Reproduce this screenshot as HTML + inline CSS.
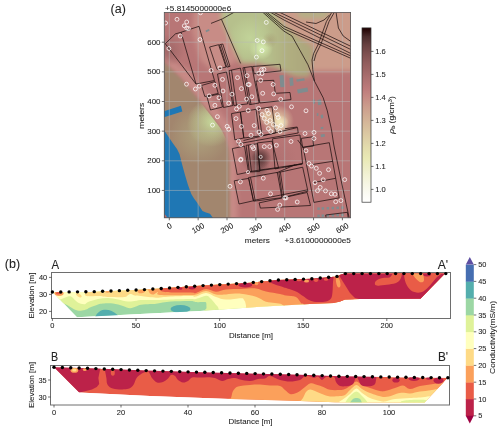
<!DOCTYPE html>
<html><head><meta charset="utf-8"><style>
html,body{margin:0;padding:0;background:#fff;}
svg{display:block;font-family:"Liberation Sans", sans-serif;}
svg{will-change:transform;}
text{stroke:#222;stroke-width:0.07px;}
</style></head><body>
<svg width="500" height="431" viewBox="0 0 500 431">
<defs>

<linearGradient id="pinkr" x1="0" y1="0" x2="0" y2="1"><stop offset="0.00" stop-color="#1e0000"/><stop offset="0.05" stop-color="#4b2d2d"/><stop offset="0.10" stop-color="#684141"/><stop offset="0.15" stop-color="#7e5050"/><stop offset="0.20" stop-color="#915d5d"/><stop offset="0.25" stop-color="#a06767"/><stop offset="0.30" stop-color="#af7272"/><stop offset="0.35" stop-color="#bd7b7b"/><stop offset="0.40" stop-color="#c68b84"/><stop offset="0.45" stop-color="#cb9c8c"/><stop offset="0.50" stop-color="#d0ab93"/><stop offset="0.55" stop-color="#d5b99a"/><stop offset="0.60" stop-color="#dac6a1"/><stop offset="0.65" stop-color="#dfd3a8"/><stop offset="0.70" stop-color="#e4dfae"/><stop offset="0.75" stop-color="#e9e9b5"/><stop offset="0.80" stop-color="#ededc6"/><stop offset="0.85" stop-color="#f2f2d6"/><stop offset="0.90" stop-color="#f7f7e5"/><stop offset="0.95" stop-color="#fbfbf3"/><stop offset="1.00" stop-color="#ffffff"/></linearGradient>
<clipPath id="mapclip"><rect x="164.3" y="12.4" width="186.3" height="205.4"/></clipPath>
<clipPath id="clipA"><polygon points="52.4,292 90,292 145,289.6 203,285.6 247,283 278,280 311.8,278.8 336.8,276.5 341,274.5 345,273.5 445,273.5 420.5,298.8 360,299 345,299.5 340,301.6 334,303 310,304 264,306.5 200,311 140,314 77,317.2"/></clipPath>
<clipPath id="clipB"><polygon points="54,367.2 96,368.6 146,370.6 200,372.2 247,373.4 300,374.8 338,376.2 400,377.2 448,377.8 424.5,402.5 335,402.3 300,401 230,399 150,396 79.2,392.6"/></clipPath>
<linearGradient id="olivegrad" x1="222" y1="0" x2="310" y2="0" gradientUnits="userSpaceOnUse"><stop offset="0" stop-color="#b6c08c"/><stop offset="0.5" stop-color="#b6c08c"/><stop offset="0.75" stop-color="#b0ae80"/><stop offset="1" stop-color="#aca67c"/></linearGradient>
<clipPath id="tanclip"><polygon points="150,50 164,62 180,77.6 196.5,97 212.7,118 221,129 226,139 228.8,150 229.8,165 230,230 150,230"/></clipPath>
<filter id="blur3" x="-20%" y="-20%" width="140%" height="140%"><feGaussianBlur stdDeviation="2.5"/></filter>
<filter id="blur15" x="-20%" y="-20%" width="140%" height="140%"><feGaussianBlur stdDeviation="1.5"/></filter>
<filter id="blur5" x="-20%" y="-20%" width="140%" height="140%"><feGaussianBlur stdDeviation="5"/></filter>
<radialGradient id="g1"><stop offset="0" stop-color="#dcf4b4" stop-opacity="1.0"/><stop offset="1" stop-color="#dcf4b4" stop-opacity="0"/></radialGradient><radialGradient id="g1b"><stop offset="0" stop-color="#c4d89c" stop-opacity="0.8"/><stop offset="1" stop-color="#c4d89c" stop-opacity="0"/></radialGradient><radialGradient id="o1"><stop offset="0" stop-color="#a89c74" stop-opacity="0.6"/><stop offset="1" stop-color="#a89c74" stop-opacity="0"/></radialGradient><radialGradient id="g2"><stop offset="0" stop-color="#cce6a2" stop-opacity="1.0"/><stop offset="1" stop-color="#cce6a2" stop-opacity="0"/></radialGradient><radialGradient id="g2b"><stop offset="0" stop-color="#b4b084" stop-opacity="0.7"/><stop offset="1" stop-color="#b4b084" stop-opacity="0"/></radialGradient><radialGradient id="y1"><stop offset="0" stop-color="#ecdcae" stop-opacity="1.0"/><stop offset="1" stop-color="#ecdcae" stop-opacity="0"/></radialGradient><radialGradient id="y3"><stop offset="0" stop-color="#f6eec4" stop-opacity="0.9"/><stop offset="1" stop-color="#f6eec4" stop-opacity="0"/></radialGradient><radialGradient id="y2"><stop offset="0" stop-color="#e8d2a8" stop-opacity="0.8"/><stop offset="1" stop-color="#e8d2a8" stop-opacity="0"/></radialGradient><radialGradient id="d1c"><stop offset="0" stop-color="#7a4c4c" stop-opacity="0.7"/><stop offset="1" stop-color="#7a4c4c" stop-opacity="0"/></radialGradient><radialGradient id="d1b"><stop offset="0" stop-color="#604040" stop-opacity="0.7"/><stop offset="1" stop-color="#604040" stop-opacity="0"/></radialGradient><radialGradient id="d1"><stop offset="0" stop-color="#3a2222" stop-opacity="1.0"/><stop offset="1" stop-color="#3a2222" stop-opacity="0"/></radialGradient><radialGradient id="d2"><stop offset="0" stop-color="#9a6464" stop-opacity="0.8"/><stop offset="1" stop-color="#9a6464" stop-opacity="0"/></radialGradient><radialGradient id="d4"><stop offset="0" stop-color="#a86c6c" stop-opacity="0.5"/><stop offset="1" stop-color="#a86c6c" stop-opacity="0"/></radialGradient>
</defs>
<g clip-path="url(#mapclip)">
<rect x="154.3" y="2.4000000000000004" width="206.3" height="225.4" fill="#b87676"/>
<g filter="url(#blur3)">
<polygon points="195,0 232,0 238,40 236,62 214,72 200,60 192,30" fill="#c88c86"/>
<polygon points="164,56 188,70 204,90 220,112 232,128 236,150 238,230 226,230 226,140 218,126 206,110 194,94 180,77.6 164,62" fill="#c88a86"/>
<polygon points="222,0 266,0 280,20 292,30 300,38 310,44 314,50 312,62 309,77 296,76.5 284,72 276,67.5 257,63.5 245,63.5 240.6,63.4 221.5,19.5" fill="url(#olivegrad)"/>
<polygon points="266,0 360,0 360,71 312,71 309,77 312,62 314,50 310,44 300,38 290,30 280,20" fill="#cc9c8a"/>
<polygon points="296,10 330,10 326,18 300,18" fill="#b4b086"/>
</g>
<g filter="url(#blur15)">
<polygon points="150,50 164,62 180,77.6 196.5,97 212.7,118 221,129 226,139 228.8,150 229.8,165 230,230 150,230" fill="#a2866e"/>
</g>
<circle cx="261" cy="48" r="12" fill="url(#g1)"/>
<circle cx="250" cy="38" r="22" fill="url(#g1b)"/>
<circle cx="270" cy="40" r="8" fill="url(#o1)"/>
<circle cx="211" cy="123" r="24" fill="url(#g2)" clip-path="url(#tanclip)"/>
<circle cx="200" cy="135" r="30" fill="url(#g2b)" clip-path="url(#tanclip)"/>
<circle cx="278" cy="121" r="16" fill="url(#y1)"/>
<circle cx="281" cy="123" r="8" fill="url(#y3)"/>
<circle cx="266" cy="116" r="10" fill="url(#y2)"/>
<circle cx="256" cy="158" r="16" fill="url(#d1c)"/>
<circle cx="259" cy="168" r="11" fill="url(#d1b)"/>
<circle cx="261.5" cy="158" r="10" fill="url(#d1)"/>
<circle cx="169" cy="50" r="16" fill="url(#d2)"/>
<circle cx="275" cy="160" r="22" fill="url(#d4)"/>
<polygon points="160,130.5 164.3,130.5 168,136 172.5,142.8 177,149 179.5,154 182,164 185,175 188,185 191.3,194 194,198.5 197,202.4 202.5,210.9 206,212.5 210,213.7 213,218 213,225 160,225" fill="#1f77b4"/>
<polygon points="160,112.5 180.9,105.7 182.3,111.4 160,118.5" fill="#1f77b4"/>
<polygon points="164.3,213.5 167.6,218 164.3,218" fill="#c46a66"/>
<polygon points="205.5,30.5 209,29 209.6,30.8 206.1,32.3" fill="#7f8c8f"/>
<polygon points="279.4,75.4 283.5,75 284.5,87 280.4,87.3" fill="#7f8c8f"/>
<polygon points="289.4,78 293,77.6 293.6,85.6 290,86" fill="#7f8c8f"/>
<polygon points="296.2,79.6 304.2,78.2 304.8,80.4 296.8,81.8" fill="#7f8c8f"/>
<polygon points="297,89.5 307.4,87.4 308.2,91.4 297.8,93.4" fill="#7f8c8f"/>
<polygon points="312.6,99.6 314.8,99.4 315.2,103.5 313,103.7" fill="#7f8c8f"/>
<polygon points="317.5,100 321,99.2 321.6,104.6 318.2,105.2" fill="#7f8c8f"/>
<polygon points="316.7,113.2 318.3,113 318.5,115.7 316.9,115.9" fill="#7f8c8f"/>
<polygon points="320.6,115 323,114.6 323.4,118 321,118.4" fill="#7f8c8f"/>
<polygon points="320.6,127.2 323.2,126.8 323.4,128.8 320.8,129.2" fill="#7f8c8f"/>
<polygon points="320.6,134.6 324.6,134 325,136.6 321,137.2" fill="#7f8c8f"/>
<rect x="317.3" y="207.4" width="2.5" height="2.5" fill="#7f8c8f"/>
<rect x="321.6" y="207.20000000000002" width="2.5" height="2.5" fill="#7f8c8f"/>
<rect x="326.6" y="207.0" width="2.5" height="2.5" fill="#7f8c8f"/>
<rect x="331.6" y="206.8" width="2.5" height="2.5" fill="#7f8c8f"/>
<rect x="336.40000000000003" y="206.6" width="2.5" height="2.5" fill="#7f8c8f"/>
<rect x="341.2" y="206.4" width="2.5" height="2.5" fill="#7f8c8f"/>
<rect x="317.3" y="214.6" width="2.5" height="2.5" fill="#7f8c8f"/>
<rect x="321.6" y="214.4" width="2.5" height="2.5" fill="#7f8c8f"/>
<rect x="326.6" y="214.2" width="2.5" height="2.5" fill="#7f8c8f"/>
<rect x="331.6" y="214.0" width="2.5" height="2.5" fill="#7f8c8f"/>
<rect x="336.40000000000003" y="213.79999999999998" width="2.5" height="2.5" fill="#7f8c8f"/>
<rect x="341.2" y="213.6" width="2.5" height="2.5" fill="#7f8c8f"/>
<line x1="169.3" y1="12.4" x2="169.3" y2="217.8" stroke="#bababa" stroke-opacity="0.62" stroke-width="0.8"/>
<line x1="198.15" y1="12.4" x2="198.15" y2="217.8" stroke="#bababa" stroke-opacity="0.62" stroke-width="0.8"/>
<line x1="227" y1="12.4" x2="227" y2="217.8" stroke="#bababa" stroke-opacity="0.62" stroke-width="0.8"/>
<line x1="255.85" y1="12.4" x2="255.85" y2="217.8" stroke="#bababa" stroke-opacity="0.62" stroke-width="0.8"/>
<line x1="284.7" y1="12.4" x2="284.7" y2="217.8" stroke="#bababa" stroke-opacity="0.62" stroke-width="0.8"/>
<line x1="313.55" y1="12.4" x2="313.55" y2="217.8" stroke="#bababa" stroke-opacity="0.62" stroke-width="0.8"/>
<line x1="342.4" y1="12.4" x2="342.4" y2="217.8" stroke="#bababa" stroke-opacity="0.62" stroke-width="0.8"/>
<line x1="164.3" y1="190.45" x2="350.6" y2="190.45" stroke="#bababa" stroke-opacity="0.62" stroke-width="0.8"/>
<line x1="164.3" y1="160.8" x2="350.6" y2="160.8" stroke="#bababa" stroke-opacity="0.62" stroke-width="0.8"/>
<line x1="164.3" y1="131.15" x2="350.6" y2="131.15" stroke="#bababa" stroke-opacity="0.62" stroke-width="0.8"/>
<line x1="164.3" y1="101.5" x2="350.6" y2="101.5" stroke="#bababa" stroke-opacity="0.62" stroke-width="0.8"/>
<line x1="164.3" y1="71.85" x2="350.6" y2="71.85" stroke="#bababa" stroke-opacity="0.62" stroke-width="0.8"/>
<line x1="164.3" y1="42.2" x2="350.6" y2="42.2" stroke="#bababa" stroke-opacity="0.62" stroke-width="0.8"/>
<polygon points="165.3,43.7 175.4,33.9 181,32.3 199,26.3 214.5,80.5 196,84" stroke="#1e1010" stroke-width="0.75" fill="none" stroke-linejoin="round"/>
<polygon points="209.6,47 218.6,44.7 226,67 217,69.3" stroke="#1e1010" stroke-width="0.75" fill="none" stroke-linejoin="round"/>
<polygon points="219.5,44.7 222.8,44 230,66.4 226.8,67.2" stroke="#1e1010" stroke-width="0.75" fill="none" stroke-linejoin="round"/>
<polygon points="201.5,85.5 215,81.5 218.2,93.4 204.8,96.5" stroke="#1e1010" stroke-width="0.75" fill="none" stroke-linejoin="round"/>
<polygon points="207,96.8 219,94 222.5,107 210.5,110" stroke="#1e1010" stroke-width="0.75" fill="none" stroke-linejoin="round"/>
<polygon points="217.5,74 226.5,72 233,105.5 223.5,107.5" stroke="#1e1010" stroke-width="0.75" fill="none" stroke-linejoin="round"/>
<polygon points="229.1,70.6 240.4,68.1 247.7,103.9 233.9,105.5" stroke="#1e1010" stroke-width="0.75" fill="none" stroke-linejoin="round"/>
<polygon points="242.9,67.8 251.8,66.5 259.1,103 249.4,104.7" stroke="#1e1010" stroke-width="0.75" fill="none" stroke-linejoin="round"/>
<polygon points="252.6,66.5 280,64.3 281,70.8 254.2,73.8" stroke="#1e1010" stroke-width="0.75" fill="none" stroke-linejoin="round"/>
<polygon points="255.9,81.1 273.7,80.3 275.3,93.3 290,92.5 291,99.6 259.9,103" stroke="#1e1010" stroke-width="0.75" fill="none" stroke-linejoin="round"/>
<polygon points="231.5,113.6 240.4,112 243.8,138 234.8,139.8" stroke="#1e1010" stroke-width="0.75" fill="none" stroke-linejoin="round"/>
<polygon points="240.4,112 256,109.3 259.7,136 243.8,138" stroke="#1e1010" stroke-width="0.75" fill="none" stroke-linejoin="round"/>
<polygon points="258.5,108.8 272,106.8 275.5,133 262,135.5" stroke="#1e1010" stroke-width="0.75" fill="none" stroke-linejoin="round"/>
<polygon points="232.3,148.6 244.5,146.1 248.5,172.1 237.2,174.5" stroke="#1e1010" stroke-width="0.75" fill="none" stroke-linejoin="round"/>
<polygon points="246.1,145.3 257.5,143.7 259.9,171.3 249.4,172.1" stroke="#1e1010" stroke-width="0.75" fill="none" stroke-linejoin="round"/>
<polygon points="257.5,142.9 272.1,141.2 278.6,168 259.9,170.5" stroke="#1e1010" stroke-width="0.75" fill="none" stroke-linejoin="round"/>
<polygon points="234.2,180.8 248.6,178.4 253.4,200.8 239,204" stroke="#1e1010" stroke-width="0.75" fill="none" stroke-linejoin="round"/>
<polygon points="248.6,177.5 277.3,172.4 281.9,197.7 253.6,201.2" stroke="#1e1010" stroke-width="0.75" fill="none" stroke-linejoin="round"/>
<polygon points="278.9,172.4 302.7,167.2 307.9,191.2 282.5,197.7" stroke="#1e1010" stroke-width="0.75" fill="none" stroke-linejoin="round"/>
<polygon points="272.5,138.8 300,135 302.6,164 275,168.9" stroke="#1e1010" stroke-width="0.75" fill="none" stroke-linejoin="round"/>
<polygon points="259.1,202.9 307.2,192.5 310.5,205.5 260.4,208.1" stroke="#1e1010" stroke-width="0.75" fill="none" stroke-linejoin="round"/>
<polygon points="303.1,147.2 329.3,142.7 339.2,197.9 313.9,202.4" stroke="#1e1010" stroke-width="0.75" fill="none" stroke-linejoin="round"/>
<polygon points="301.3,138.4 312.6,136.8 313.6,146 302.6,147.5" stroke="#1e1010" stroke-width="0.75" fill="none" stroke-linejoin="round"/>
<polygon points="325.7,215 347.4,212.3 348.5,220 326.5,221" stroke="#1e1010" stroke-width="0.75" fill="none" stroke-linejoin="round"/>
<polyline points="181,32.3 196,84" stroke="#1e1010" stroke-width="0.75" fill="none" stroke-linejoin="round"/>
<polyline points="211,23.4 222.5,18.8 234.5,12" stroke="#1e1010" stroke-width="0.75" fill="none" stroke-linejoin="round"/>
<polyline points="221.5,19.5 240.6,63.4" stroke="#1e1010" stroke-width="0.75" fill="none" stroke-linejoin="round"/>
<polyline points="221,44.4 228.4,66.8" stroke="#1e1010" stroke-width="0.75" fill="none" stroke-linejoin="round"/>
<polyline points="231.5,70 236.5,105" stroke="#1e1010" stroke-width="0.75" fill="none" stroke-linejoin="round"/>
<polyline points="244.5,67.5 251,104.5" stroke="#1e1010" stroke-width="0.75" fill="none" stroke-linejoin="round"/>
<polyline points="243.5,140.5 297.5,127.5 298.2,133" stroke="#1e1010" stroke-width="0.75" fill="none" stroke-linejoin="round"/>
<polyline points="237,144 298.2,133" stroke="#1e1010" stroke-width="0.75" fill="none" stroke-linejoin="round"/>
<polyline points="285,128.7 297.2,127" stroke="#1e1010" stroke-width="0.75" fill="none" stroke-linejoin="round"/>
<polyline points="248.3,145 251.5,171.8" stroke="#1e1010" stroke-width="0.75" fill="none" stroke-linejoin="round"/>
<polyline points="250.5,177.3 255.3,200.9" stroke="#1e1010" stroke-width="0.75" fill="none" stroke-linejoin="round"/>
<polyline points="280.4,172.2 284,197.3" stroke="#1e1010" stroke-width="0.75" fill="none" stroke-linejoin="round"/>
<polyline points="253.9,200.3 307.2,189.9" stroke="#1e1010" stroke-width="0.75" fill="none" stroke-linejoin="round"/>
<polyline points="250,171.5 302,163.9" stroke="#1e1010" stroke-width="0.75" fill="none" stroke-linejoin="round"/>
<polyline points="276.6,172.8 295,164.8" stroke="#1e1010" stroke-width="0.75" fill="none" stroke-linejoin="round"/>
<polyline points="313,164.4 332.9,161.3" stroke="#1e1010" stroke-width="0.75" fill="none" stroke-linejoin="round"/>
<polyline points="313.9,182.5 335.6,178.3" stroke="#1e1010" stroke-width="0.75" fill="none" stroke-linejoin="round"/>
<polyline points="297.7,140 303.1,147.2" stroke="#1e1010" stroke-width="0.75" fill="none" stroke-linejoin="round"/>
<polyline points="285,167.1 302.2,163.5" stroke="#1e1010" stroke-width="0.75" fill="none" stroke-linejoin="round"/>
<polyline points="279,12 351,46.4" stroke="#1e1010" stroke-width="0.75" fill="none" stroke-linejoin="round"/>
<polyline points="273,12 351,49.6" stroke="#1e1010" stroke-width="0.75" fill="none" stroke-linejoin="round"/>
<polyline points="270,12 284,20 351,53.6" stroke="#1e1010" stroke-width="0.75" fill="none" stroke-linejoin="round"/>
<polyline points="266.5,12 284,26.4 351,56" stroke="#1e1010" stroke-width="0.75" fill="none" stroke-linejoin="round"/>
<polyline points="264.5,12 284,28.8 351,58.4" stroke="#1e1010" stroke-width="0.75" fill="none" stroke-linejoin="round"/>
<polyline points="262.5,12 284,31.2 292,36 300,50.4 308,64.8 314.4,81" stroke="#1e1010" stroke-width="0.75" fill="none" stroke-linejoin="round"/>
<polyline points="332,12 326.4,21.6 322.4,32.8 318.4,44 313.6,53.6 312,60 312.8,69.6 314.4,81 323.2,97.8 327.3,110.8 331.3,128.7 333.8,145 341,180 349.2,218" stroke="#1e1010" stroke-width="0.75" fill="none" stroke-linejoin="round"/>
<polyline points="334.5,12 329,21.6 325,32.8 321,44 316,54 314,61" stroke="#1e1010" stroke-width="0.75" fill="none" stroke-linejoin="round"/>
<polyline points="306,22 316,23.5 324,20 329.5,15" stroke="#1e1010" stroke-width="0.75" fill="none" stroke-linejoin="round"/>
<polyline points="336,12 338.4,28 343.2,36 351,41.6" stroke="#1e1010" stroke-width="0.75" fill="none" stroke-linejoin="round"/>
<circle cx="165.6" cy="23" r="1.95" fill="none" stroke="#fff" stroke-width="0.8" stroke-opacity="0.95"/>
<circle cx="177" cy="19.3" r="1.95" fill="none" stroke="#fff" stroke-width="0.8" stroke-opacity="0.95"/>
<circle cx="186.7" cy="22" r="1.95" fill="none" stroke="#fff" stroke-width="0.8" stroke-opacity="0.95"/>
<circle cx="184.3" cy="25.8" r="1.95" fill="none" stroke="#fff" stroke-width="0.8" stroke-opacity="0.95"/>
<circle cx="186.7" cy="28.2" r="1.95" fill="none" stroke="#fff" stroke-width="0.8" stroke-opacity="0.95"/>
<circle cx="188.4" cy="28.5" r="1.95" fill="none" stroke="#fff" stroke-width="0.8" stroke-opacity="0.95"/>
<circle cx="180.2" cy="36" r="1.95" fill="none" stroke="#fff" stroke-width="0.8" stroke-opacity="0.95"/>
<circle cx="200" cy="39.6" r="1.95" fill="none" stroke="#fff" stroke-width="0.8" stroke-opacity="0.95"/>
<circle cx="168.9" cy="48.5" r="1.95" fill="none" stroke="#fff" stroke-width="0.8" stroke-opacity="0.95"/>
<circle cx="200.5" cy="12.8" r="1.95" fill="none" stroke="#fff" stroke-width="0.8" stroke-opacity="0.95"/>
<circle cx="211.1" cy="70.5" r="1.95" fill="none" stroke="#fff" stroke-width="0.8" stroke-opacity="0.95"/>
<circle cx="220" cy="68" r="1.95" fill="none" stroke="#fff" stroke-width="0.8" stroke-opacity="0.95"/>
<circle cx="222.5" cy="79.4" r="1.95" fill="none" stroke="#fff" stroke-width="0.8" stroke-opacity="0.95"/>
<circle cx="266.3" cy="22.4" r="1.95" fill="none" stroke="#fff" stroke-width="0.8" stroke-opacity="0.95"/>
<circle cx="257.2" cy="40.5" r="1.95" fill="none" stroke="#fff" stroke-width="0.8" stroke-opacity="0.95"/>
<circle cx="263.3" cy="41.9" r="1.95" fill="none" stroke="#fff" stroke-width="0.8" stroke-opacity="0.95"/>
<circle cx="262" cy="50.7" r="1.95" fill="none" stroke="#fff" stroke-width="0.8" stroke-opacity="0.95"/>
<circle cx="256.4" cy="57.1" r="1.95" fill="none" stroke="#fff" stroke-width="0.8" stroke-opacity="0.95"/>
<circle cx="263.9" cy="69.3" r="1.95" fill="none" stroke="#fff" stroke-width="0.8" stroke-opacity="0.95"/>
<circle cx="258.8" cy="73.3" r="1.95" fill="none" stroke="#fff" stroke-width="0.8" stroke-opacity="0.95"/>
<circle cx="262" cy="73.6" r="1.95" fill="none" stroke="#fff" stroke-width="0.8" stroke-opacity="0.95"/>
<circle cx="237.5" cy="77.6" r="1.95" fill="none" stroke="#fff" stroke-width="0.8" stroke-opacity="0.95"/>
<circle cx="247.1" cy="75.7" r="1.95" fill="none" stroke="#fff" stroke-width="0.8" stroke-opacity="0.95"/>
<circle cx="186.5" cy="84.2" r="1.95" fill="none" stroke="#fff" stroke-width="0.8" stroke-opacity="0.95"/>
<circle cx="195.4" cy="89" r="1.95" fill="none" stroke="#fff" stroke-width="0.8" stroke-opacity="0.95"/>
<circle cx="199.2" cy="86.1" r="1.95" fill="none" stroke="#fff" stroke-width="0.8" stroke-opacity="0.95"/>
<circle cx="214.9" cy="85.3" r="1.95" fill="none" stroke="#fff" stroke-width="0.8" stroke-opacity="0.95"/>
<circle cx="223" cy="91" r="1.95" fill="none" stroke="#fff" stroke-width="0.8" stroke-opacity="0.95"/>
<circle cx="219" cy="97.8" r="1.95" fill="none" stroke="#fff" stroke-width="0.8" stroke-opacity="0.95"/>
<circle cx="209.2" cy="95.9" r="1.95" fill="none" stroke="#fff" stroke-width="0.8" stroke-opacity="0.95"/>
<circle cx="214.9" cy="105.3" r="1.95" fill="none" stroke="#fff" stroke-width="0.8" stroke-opacity="0.95"/>
<circle cx="232" cy="94.2" r="1.95" fill="none" stroke="#fff" stroke-width="0.8" stroke-opacity="0.95"/>
<circle cx="228.7" cy="103.2" r="1.95" fill="none" stroke="#fff" stroke-width="0.8" stroke-opacity="0.95"/>
<circle cx="236.5" cy="108.9" r="1.95" fill="none" stroke="#fff" stroke-width="0.8" stroke-opacity="0.95"/>
<circle cx="239.3" cy="106.4" r="1.95" fill="none" stroke="#fff" stroke-width="0.8" stroke-opacity="0.95"/>
<circle cx="241.4" cy="88.6" r="1.95" fill="none" stroke="#fff" stroke-width="0.8" stroke-opacity="0.95"/>
<circle cx="246.6" cy="99.1" r="1.95" fill="none" stroke="#fff" stroke-width="0.8" stroke-opacity="0.95"/>
<circle cx="248.2" cy="84.5" r="1.95" fill="none" stroke="#fff" stroke-width="0.8" stroke-opacity="0.95"/>
<circle cx="217.4" cy="116.7" r="1.95" fill="none" stroke="#fff" stroke-width="0.8" stroke-opacity="0.95"/>
<circle cx="212.5" cy="125.1" r="1.95" fill="none" stroke="#fff" stroke-width="0.8" stroke-opacity="0.95"/>
<circle cx="227.1" cy="126.4" r="1.95" fill="none" stroke="#fff" stroke-width="0.8" stroke-opacity="0.95"/>
<circle cx="228.7" cy="129.2" r="1.95" fill="none" stroke="#fff" stroke-width="0.8" stroke-opacity="0.95"/>
<circle cx="236" cy="118.6" r="1.95" fill="none" stroke="#fff" stroke-width="0.8" stroke-opacity="0.95"/>
<circle cx="241.4" cy="126.4" r="1.95" fill="none" stroke="#fff" stroke-width="0.8" stroke-opacity="0.95"/>
<circle cx="238.5" cy="141.3" r="1.95" fill="none" stroke="#fff" stroke-width="0.8" stroke-opacity="0.95"/>
<circle cx="240.9" cy="144.6" r="1.95" fill="none" stroke="#fff" stroke-width="0.8" stroke-opacity="0.95"/>
<circle cx="248.2" cy="110.5" r="1.95" fill="none" stroke="#fff" stroke-width="0.8" stroke-opacity="0.95"/>
<circle cx="261.5" cy="69.6" r="1.95" fill="none" stroke="#fff" stroke-width="0.8" stroke-opacity="0.95"/>
<circle cx="260.7" cy="80.3" r="1.95" fill="none" stroke="#fff" stroke-width="0.8" stroke-opacity="0.95"/>
<circle cx="249.2" cy="84.6" r="1.95" fill="none" stroke="#fff" stroke-width="0.8" stroke-opacity="0.95"/>
<circle cx="273.1" cy="84.4" r="1.95" fill="none" stroke="#fff" stroke-width="0.8" stroke-opacity="0.95"/>
<circle cx="262.7" cy="93.3" r="1.95" fill="none" stroke="#fff" stroke-width="0.8" stroke-opacity="0.95"/>
<circle cx="273.7" cy="93.9" r="1.95" fill="none" stroke="#fff" stroke-width="0.8" stroke-opacity="0.95"/>
<circle cx="251.8" cy="96.8" r="1.95" fill="none" stroke="#fff" stroke-width="0.8" stroke-opacity="0.95"/>
<circle cx="280.7" cy="99.3" r="1.95" fill="none" stroke="#fff" stroke-width="0.8" stroke-opacity="0.95"/>
<circle cx="258.6" cy="108.4" r="1.95" fill="none" stroke="#fff" stroke-width="0.8" stroke-opacity="0.95"/>
<circle cx="267" cy="110.3" r="1.95" fill="none" stroke="#fff" stroke-width="0.8" stroke-opacity="0.95"/>
<circle cx="275.5" cy="107.9" r="1.95" fill="none" stroke="#fff" stroke-width="0.8" stroke-opacity="0.95"/>
<circle cx="291.5" cy="106.8" r="1.95" fill="none" stroke="#fff" stroke-width="0.8" stroke-opacity="0.95"/>
<circle cx="262" cy="114.6" r="1.95" fill="none" stroke="#fff" stroke-width="0.8" stroke-opacity="0.95"/>
<circle cx="268.5" cy="113.5" r="1.95" fill="none" stroke="#fff" stroke-width="0.8" stroke-opacity="0.95"/>
<circle cx="264.3" cy="118.4" r="1.95" fill="none" stroke="#fff" stroke-width="0.8" stroke-opacity="0.95"/>
<circle cx="277.3" cy="114.6" r="1.95" fill="none" stroke="#fff" stroke-width="0.8" stroke-opacity="0.95"/>
<circle cx="278.2" cy="117.4" r="1.95" fill="none" stroke="#fff" stroke-width="0.8" stroke-opacity="0.95"/>
<circle cx="270.1" cy="120.5" r="1.95" fill="none" stroke="#fff" stroke-width="0.8" stroke-opacity="0.95"/>
<circle cx="266.7" cy="122.4" r="1.95" fill="none" stroke="#fff" stroke-width="0.8" stroke-opacity="0.95"/>
<circle cx="273.4" cy="124.5" r="1.95" fill="none" stroke="#fff" stroke-width="0.8" stroke-opacity="0.95"/>
<circle cx="254.2" cy="125.6" r="1.95" fill="none" stroke="#fff" stroke-width="0.8" stroke-opacity="0.95"/>
<circle cx="281" cy="125.6" r="1.95" fill="none" stroke="#fff" stroke-width="0.8" stroke-opacity="0.95"/>
<circle cx="276.7" cy="127.3" r="1.95" fill="none" stroke="#fff" stroke-width="0.8" stroke-opacity="0.95"/>
<circle cx="251" cy="135.2" r="1.95" fill="none" stroke="#fff" stroke-width="0.8" stroke-opacity="0.95"/>
<circle cx="259" cy="132" r="1.95" fill="none" stroke="#fff" stroke-width="0.8" stroke-opacity="0.95"/>
<circle cx="261" cy="134.5" r="1.95" fill="none" stroke="#fff" stroke-width="0.8" stroke-opacity="0.95"/>
<circle cx="268.4" cy="128.6" r="1.95" fill="none" stroke="#fff" stroke-width="0.8" stroke-opacity="0.95"/>
<circle cx="270.8" cy="131.5" r="1.95" fill="none" stroke="#fff" stroke-width="0.8" stroke-opacity="0.95"/>
<circle cx="280" cy="131.5" r="1.95" fill="none" stroke="#fff" stroke-width="0.8" stroke-opacity="0.95"/>
<circle cx="252.6" cy="146.6" r="1.95" fill="none" stroke="#fff" stroke-width="0.8" stroke-opacity="0.95"/>
<circle cx="253.6" cy="148.6" r="1.95" fill="none" stroke="#fff" stroke-width="0.8" stroke-opacity="0.95"/>
<circle cx="264.3" cy="146.6" r="1.95" fill="none" stroke="#fff" stroke-width="0.8" stroke-opacity="0.95"/>
<circle cx="269.7" cy="146.6" r="1.95" fill="none" stroke="#fff" stroke-width="0.8" stroke-opacity="0.95"/>
<circle cx="276.4" cy="145.3" r="1.95" fill="none" stroke="#fff" stroke-width="0.8" stroke-opacity="0.95"/>
<circle cx="291" cy="141.5" r="1.95" fill="none" stroke="#fff" stroke-width="0.8" stroke-opacity="0.95"/>
<circle cx="241" cy="159.2" r="1.95" fill="none" stroke="#fff" stroke-width="0.8" stroke-opacity="0.95"/>
<circle cx="240.4" cy="181.8" r="1.95" fill="none" stroke="#fff" stroke-width="0.8" stroke-opacity="0.95"/>
<circle cx="263.3" cy="178.2" r="1.95" fill="none" stroke="#fff" stroke-width="0.8" stroke-opacity="0.95"/>
<circle cx="230" cy="186.3" r="1.95" fill="none" stroke="#fff" stroke-width="0.8" stroke-opacity="0.95"/>
<circle cx="270.5" cy="193.8" r="1.95" fill="none" stroke="#fff" stroke-width="0.8" stroke-opacity="0.95"/>
<circle cx="240.6" cy="160" r="1.95" fill="none" stroke="#fff" stroke-width="0.8" stroke-opacity="0.95"/>
<circle cx="284.8" cy="197.9" r="1.95" fill="none" stroke="#fff" stroke-width="0.8" stroke-opacity="0.95"/>
<circle cx="279.8" cy="205.1" r="1.95" fill="none" stroke="#fff" stroke-width="0.8" stroke-opacity="0.95"/>
<circle cx="277.6" cy="209.4" r="1.95" fill="none" stroke="#fff" stroke-width="0.8" stroke-opacity="0.95"/>
<circle cx="306" cy="110.8" r="1.95" fill="none" stroke="#fff" stroke-width="0.8" stroke-opacity="0.95"/>
<circle cx="305" cy="133.5" r="1.95" fill="none" stroke="#fff" stroke-width="0.8" stroke-opacity="0.95"/>
<circle cx="314" cy="132.4" r="1.95" fill="none" stroke="#fff" stroke-width="0.8" stroke-opacity="0.95"/>
<circle cx="314" cy="138.5" r="1.95" fill="none" stroke="#fff" stroke-width="0.8" stroke-opacity="0.95"/>
<circle cx="306" cy="150.8" r="1.95" fill="none" stroke="#fff" stroke-width="0.8" stroke-opacity="0.95"/>
<circle cx="308.9" cy="163.5" r="1.95" fill="none" stroke="#fff" stroke-width="0.8" stroke-opacity="0.95"/>
<circle cx="311.5" cy="166.1" r="1.95" fill="none" stroke="#fff" stroke-width="0.8" stroke-opacity="0.95"/>
<circle cx="316.3" cy="168.3" r="1.95" fill="none" stroke="#fff" stroke-width="0.8" stroke-opacity="0.95"/>
<circle cx="319.6" cy="173.3" r="1.95" fill="none" stroke="#fff" stroke-width="0.8" stroke-opacity="0.95"/>
<circle cx="328.5" cy="169.7" r="1.95" fill="none" stroke="#fff" stroke-width="0.8" stroke-opacity="0.95"/>
<circle cx="315" cy="182.7" r="1.95" fill="none" stroke="#fff" stroke-width="0.8" stroke-opacity="0.95"/>
<circle cx="323.2" cy="179.8" r="1.95" fill="none" stroke="#fff" stroke-width="0.8" stroke-opacity="0.95"/>
<circle cx="320.2" cy="187.4" r="1.95" fill="none" stroke="#fff" stroke-width="0.8" stroke-opacity="0.95"/>
<circle cx="317.5" cy="190.7" r="1.95" fill="none" stroke="#fff" stroke-width="0.8" stroke-opacity="0.95"/>
<circle cx="325.5" cy="190.9" r="1.95" fill="none" stroke="#fff" stroke-width="0.8" stroke-opacity="0.95"/>
<circle cx="331.3" cy="193.8" r="1.95" fill="none" stroke="#fff" stroke-width="0.8" stroke-opacity="0.95"/>
<circle cx="335" cy="194.2" r="1.95" fill="none" stroke="#fff" stroke-width="0.8" stroke-opacity="0.95"/>
<circle cx="335.7" cy="201.7" r="1.95" fill="none" stroke="#fff" stroke-width="0.8" stroke-opacity="0.95"/>
<circle cx="340.9" cy="200.6" r="1.95" fill="none" stroke="#fff" stroke-width="0.8" stroke-opacity="0.95"/>
<circle cx="344.7" cy="179.6" r="1.95" fill="none" stroke="#fff" stroke-width="0.8" stroke-opacity="0.95"/>
<circle cx="297.2" cy="202" r="1.95" fill="none" stroke="#fff" stroke-width="0.8" stroke-opacity="0.95"/>
<circle cx="286" cy="197.9" r="1.95" fill="none" stroke="#fff" stroke-width="0.8" stroke-opacity="0.95"/>
<circle cx="260.7" cy="156.9" r="1.55" fill="none" stroke="#fff" stroke-width="0.7"/>
<circle cx="248" cy="172.1" r="1.55" fill="none" stroke="#fff" stroke-width="0.7"/>
</g>
<rect x="164.3" y="12.4" width="186.3" height="205.4" fill="none" stroke="#555" stroke-width="0.8"/>
<line x1="161.8" y1="190.45" x2="164.3" y2="190.45" stroke="#333" stroke-width="0.7"/>
<text x="160.5" y="193.05" font-size="7.6" text-anchor="end" fill="#222" textLength="13.2" lengthAdjust="spacingAndGlyphs" >100</text>
<line x1="161.8" y1="160.8" x2="164.3" y2="160.8" stroke="#333" stroke-width="0.7"/>
<text x="160.5" y="163.4" font-size="7.6" text-anchor="end" fill="#222" textLength="13.2" lengthAdjust="spacingAndGlyphs" >200</text>
<line x1="161.8" y1="131.15" x2="164.3" y2="131.15" stroke="#333" stroke-width="0.7"/>
<text x="160.5" y="133.75" font-size="7.6" text-anchor="end" fill="#222" textLength="13.2" lengthAdjust="spacingAndGlyphs" >300</text>
<line x1="161.8" y1="101.5" x2="164.3" y2="101.5" stroke="#333" stroke-width="0.7"/>
<text x="160.5" y="104.1" font-size="7.6" text-anchor="end" fill="#222" textLength="13.2" lengthAdjust="spacingAndGlyphs" >400</text>
<line x1="161.8" y1="71.85" x2="164.3" y2="71.85" stroke="#333" stroke-width="0.7"/>
<text x="160.5" y="74.45" font-size="7.6" text-anchor="end" fill="#222" textLength="13.2" lengthAdjust="spacingAndGlyphs" >500</text>
<line x1="161.8" y1="42.2" x2="164.3" y2="42.2" stroke="#333" stroke-width="0.7"/>
<text x="160.5" y="44.8" font-size="7.6" text-anchor="end" fill="#222" textLength="13.2" lengthAdjust="spacingAndGlyphs" >600</text>
<line x1="169.3" y1="217.8" x2="169.3" y2="220.3" stroke="#333" stroke-width="0.7"/>
<text x="0" y="0" font-size="8" text-anchor="middle" fill="#222" dominant-baseline="central" transform="translate(169.3 226.23) rotate(-30)" textLength="4.35" lengthAdjust="spacingAndGlyphs">0</text>
<line x1="198.15" y1="217.8" x2="198.15" y2="220.3" stroke="#333" stroke-width="0.7"/>
<text x="0" y="0" font-size="8" text-anchor="middle" fill="#222" dominant-baseline="central" transform="translate(198.15 228.4) rotate(-30)" textLength="13.05" lengthAdjust="spacingAndGlyphs">100</text>
<line x1="227" y1="217.8" x2="227" y2="220.3" stroke="#333" stroke-width="0.7"/>
<text x="0" y="0" font-size="8" text-anchor="middle" fill="#222" dominant-baseline="central" transform="translate(227 228.4) rotate(-30)" textLength="13.05" lengthAdjust="spacingAndGlyphs">200</text>
<line x1="255.85" y1="217.8" x2="255.85" y2="220.3" stroke="#333" stroke-width="0.7"/>
<text x="0" y="0" font-size="8" text-anchor="middle" fill="#222" dominant-baseline="central" transform="translate(255.85 228.4) rotate(-30)" textLength="13.05" lengthAdjust="spacingAndGlyphs">300</text>
<line x1="284.7" y1="217.8" x2="284.7" y2="220.3" stroke="#333" stroke-width="0.7"/>
<text x="0" y="0" font-size="8" text-anchor="middle" fill="#222" dominant-baseline="central" transform="translate(284.7 228.4) rotate(-30)" textLength="13.05" lengthAdjust="spacingAndGlyphs">400</text>
<line x1="313.55" y1="217.8" x2="313.55" y2="220.3" stroke="#333" stroke-width="0.7"/>
<text x="0" y="0" font-size="8" text-anchor="middle" fill="#222" dominant-baseline="central" transform="translate(313.55 228.4) rotate(-30)" textLength="13.05" lengthAdjust="spacingAndGlyphs">500</text>
<line x1="342.4" y1="217.8" x2="342.4" y2="220.3" stroke="#333" stroke-width="0.7"/>
<text x="0" y="0" font-size="8" text-anchor="middle" fill="#222" dominant-baseline="central" transform="translate(342.4 228.4) rotate(-30)" textLength="13.05" lengthAdjust="spacingAndGlyphs">600</text>
<text x="165.1" y="10.9" font-size="7.6" text-anchor="start" fill="#222" textLength="66.1" lengthAdjust="spacingAndGlyphs" >+5.8145000000e6</text>
<text x="284.4" y="242.9" font-size="7.6" text-anchor="start" fill="#222" textLength="66.5" lengthAdjust="spacingAndGlyphs" >+3.6100000000e5</text>
<text x="244.8" y="242.9" font-size="7.6" text-anchor="start" fill="#222" textLength="25.2" lengthAdjust="spacingAndGlyphs" >meters</text>
<text x="144.3" y="115.7" font-size="7.6" text-anchor="middle" fill="#222" textLength="26" lengthAdjust="spacingAndGlyphs" transform="rotate(-90 144.3 115.7)" >meters</text>
<text x="110.6" y="13.4" font-size="12" text-anchor="start" fill="#222" textLength="15.3" lengthAdjust="spacingAndGlyphs" >(a)</text>
<rect x="362.0" y="27.9" width="9" height="174.3" fill="url(#pinkr)" stroke="#333" stroke-width="0.7"/>
<line x1="371.0" y1="189.4" x2="373.5" y2="189.4" stroke="#333" stroke-width="0.7"/>
<text x="375.2" y="191.9" font-size="7.6" text-anchor="start" fill="#222" textLength="10.5" lengthAdjust="spacingAndGlyphs" >1.0</text>
<line x1="371.0" y1="166.4" x2="373.5" y2="166.4" stroke="#333" stroke-width="0.7"/>
<text x="375.2" y="168.9" font-size="7.6" text-anchor="start" fill="#222" textLength="10.5" lengthAdjust="spacingAndGlyphs" >1.1</text>
<line x1="371.0" y1="143.4" x2="373.5" y2="143.4" stroke="#333" stroke-width="0.7"/>
<text x="375.2" y="145.9" font-size="7.6" text-anchor="start" fill="#222" textLength="10.5" lengthAdjust="spacingAndGlyphs" >1.2</text>
<line x1="371.0" y1="120.4" x2="373.5" y2="120.4" stroke="#333" stroke-width="0.7"/>
<text x="375.2" y="122.9" font-size="7.6" text-anchor="start" fill="#222" textLength="10.5" lengthAdjust="spacingAndGlyphs" >1.3</text>
<line x1="371.0" y1="97.4" x2="373.5" y2="97.4" stroke="#333" stroke-width="0.7"/>
<text x="375.2" y="99.9" font-size="7.6" text-anchor="start" fill="#222" textLength="10.5" lengthAdjust="spacingAndGlyphs" >1.4</text>
<line x1="371.0" y1="74.4" x2="373.5" y2="74.4" stroke="#333" stroke-width="0.7"/>
<text x="375.2" y="76.9" font-size="7.6" text-anchor="start" fill="#222" textLength="10.5" lengthAdjust="spacingAndGlyphs" >1.5</text>
<line x1="371.0" y1="51.4" x2="373.5" y2="51.4" stroke="#333" stroke-width="0.7"/>
<text x="375.2" y="53.9" font-size="7.6" text-anchor="start" fill="#222" textLength="10.5" lengthAdjust="spacingAndGlyphs" >1.6</text>
<text x="0" y="0" font-size="7.6" fill="#222" text-anchor="middle" transform="translate(394.2 115) rotate(-90)" textLength="37.5" lengthAdjust="spacingAndGlyphs"><tspan font-style="italic">ρ</tspan><tspan font-size="5" dy="1.2">b</tspan><tspan dy="-1.2"> (g/cm</tspan><tspan font-size="5" dy="-2.2">3</tspan><tspan dy="2.2">)</tspan></text>
<g clip-path="url(#clipA)">
<polygon points="52.4,292 90,292 145,289.6 203,285.6 247,283 278,280 311.8,278.8 336.8,276.5 341,274.5 345,273.5 445,273.5 420.5,298.8 360,299 345,299.5 340,301.6 334,303 310,304 264,306.5 200,311 140,314 77,317.2" fill="#9cd7a4" />
<path d="M50,260 L50,300 C52.47,300.67 60.8,302.47 64.8,304 C68.8,305.53 71.4,308.07 74,309.2 C76.6,310.33 78.4,310.73 80.4,310.8 C82.4,310.87 84.4,310.15 86,309.6 C87.6,309.05 88,308.35 90,307.5 C92,306.65 95.83,305.17 98,304.5 C100.17,303.83 100.5,303.67 103,303.5 C105.5,303.33 109.67,303.08 113,303.5 C116.33,303.92 120.17,305.2 123,306 C125.83,306.8 127.83,308.22 130,308.3 C132.17,308.38 134.17,307.08 136,306.5 C137.83,305.92 138.67,305.22 141,304.8 C143.33,304.38 147.5,304.18 150,304 C152.5,303.82 152.5,304.1 156,303.7 C159.5,303.3 165.33,302.05 171,301.6 C176.67,301.15 185.83,300.92 190,301 C194.17,301.08 193.83,301.93 196,302.1 C198.17,302.27 201.33,301.93 203,302 C204.67,302.07 205.42,301.5 206,302.5 C206.58,303.5 206.33,303.42 206.5,308 C206.67,312.58 166.42,326.33 207,330 C247.58,333.67 409.5,330 450,330 L450,260 Z" fill="#dff299"/>
<path d="M50,260 L50,299 C50.83,299 53.33,298.92 55,299 C56.67,299.08 58.5,299.67 60,299.5 C61.5,299.33 62.67,298.5 64,298 C65.33,297.5 66.83,296.75 68,296.5 C69.17,296.25 70.17,296.25 71,296.5 C71.83,296.75 72.17,297.25 73,298 C73.83,298.75 74.83,300.08 76,301 C77.17,301.92 78.5,302.97 80,303.5 C81.5,304.03 83.67,304.45 85,304.2 C86.33,303.95 85.83,302.87 88,302 C90.17,301.13 94.67,299.67 98,299 C101.33,298.33 104.67,297.92 108,298 C111.33,298.08 114.67,298.92 118,299.5 C121.33,300.08 125,301.28 128,301.5 C131,301.72 133.83,301.05 136,300.8 C138.17,300.55 137.67,300.13 141,300 C144.33,299.87 151,300.08 156,300 C161,299.92 165.33,299.67 171,299.5 C176.67,299.33 185.83,299.1 190,299 C194.17,298.9 193.33,299.43 196,298.9 C198.67,298.37 203.67,295.95 206,295.8 C208.33,295.65 208.38,296.55 210,298 C211.62,299.45 214.22,302.5 215.7,304.5 C217.18,306.5 218.18,305.75 218.9,310 C219.62,314.25 181.48,326.67 220,330 C258.52,333.33 411.67,330 450,330 L450,260 Z" fill="#ffffbe"/>
<path d="M50,260 L50,270 C55.67,270 78.17,266.25 84,270 C89.83,273.75 84.33,288.17 85,292.5 C85.67,296.83 85.67,295.42 88,296 C90.33,296.58 96.5,295.92 99,296 C101.5,296.08 101.17,296.33 103,296.5 C104.83,296.67 106.33,296.92 110,297 C113.67,297.08 122,297.33 125,297 C128,296.67 127,295.5 128,295 C129,294.5 129.83,293.92 131,294 C132.17,294.08 133.33,295.17 135,295.5 C136.67,295.83 137.5,295.63 141,296 C144.5,296.37 152.5,297.48 156,297.7 C159.5,297.92 159.5,297.5 162,297.3 C164.5,297.1 166.33,296.72 171,296.5 C175.67,296.28 185.83,295.98 190,296 C194.17,296.02 193.33,297.1 196,296.6 C198.67,296.1 202.67,292.93 206,293 C209.33,293.07 212.67,295.9 216,297 C219.33,298.1 221.83,299.4 226,299.6 C230.17,299.8 238,298.13 241,298.2 C244,298.27 243.17,298.7 244,300 C244.83,301.3 245.33,301 246,306 C246.67,311 240.67,326 248,330 C255.33,334 282.83,340 290,330 C297.17,320 264.33,280 291,270 C317.67,260 423.5,270 450,270 L450,260 Z" fill="#feda86"/>
<path d="M50,260 L50,270 C64.33,270 121.42,266.6 136,270 C150.58,273.4 136.67,286.53 137.5,290.4 C138.33,294.27 139.92,292.85 141,293.2 C142.08,293.55 143.17,293.03 144,292.5 C144.83,291.97 145.33,290.42 146,290 C146.67,289.58 147.33,289.42 148,290 C148.67,290.58 149.17,292.73 150,293.5 C150.83,294.27 152,294.68 153,294.6 C154,294.52 155.17,293.43 156,293 C156.83,292.57 157.33,291.67 158,292 C158.67,292.33 154.67,294.5 160,295 C165.33,295.5 184,295.07 190,295 C196,294.93 193.33,295.27 196,294.6 C198.67,293.93 202.67,291 206,291 C209.33,291 212.67,294.03 216,294.6 C219.33,295.17 221.83,294.55 226,294.4 C230.17,294.25 236,293.3 241,293.7 C246,294.1 251.83,295.45 256,296.8 C260.17,298.15 262.83,300.77 266,301.8 C269.17,302.83 272.33,302.55 275,303 C277.67,303.45 280.33,303.33 282,304.5 C283.67,305.67 284.33,305.75 285,310 C285.67,314.25 258.5,326.67 286,330 C313.5,333.33 422.67,330 450,330 L450,260 Z" fill="#fba05b"/>
<path d="M50,260 L50,270 C68,270 139.7,266.95 158,270 C176.3,273.05 158.63,284.63 159.8,288.3 C160.97,291.97 159.97,291.3 165,292 C170.03,292.7 184.83,292.33 190,292.5 C195.17,292.67 193.33,293.57 196,293 C198.67,292.43 202.67,289.3 206,289.1 C209.33,288.9 212.67,291.73 216,291.8 C219.33,291.87 221.83,289.95 226,289.5 C230.17,289.05 236,289.28 241,289.1 C246,288.92 251.83,287.98 256,288.4 C260.17,288.82 262,290.67 266,291.6 C270,292.53 276.67,293.35 280,294 C283.33,294.65 283.33,295 286,295.5 C288.67,296 293.5,295.75 296,297 C298.5,298.25 299.67,301.5 301,303 C302.33,304.5 303.33,301.5 304,306 C304.67,310.5 280.67,326 305,330 C329.33,334 425.83,330 450,330 L450,260 Z" fill="#e95c47"/>
<path d="M268,260 L268,270 C268.47,271.7 270.13,278 270.8,280.2 C271.47,282.4 269.8,282 272,283.2 C274.2,284.4 281.67,286.6 284,287.4 C286.33,288.2 284,287.32 286,288 C288,288.68 293.17,290.17 296,291.5 C298.83,292.83 300.83,294.58 303,296 C305.17,297.42 306.83,299 309,300 C311.17,301 313.17,301.75 316,302 C318.83,302.25 323.5,302.08 326,301.5 C328.5,300.92 329.92,300.08 331,298.5 C332.08,296.92 332.17,294.75 332.5,292 C332.83,289.25 332.83,284.25 333,282 C333.17,279.75 333.33,280.5 333.5,278.5 C333.67,276.5 333.92,271.42 334,270 L334,260 Z" fill="#bc2249"/>
<polygon points="338,270 450,270 450,330 360,330 360,299.3 355,298 350,293 345,285 340,277 338,274" fill="#bc2249" />
<path d="M375,284.5 C374,281 378,279 383,278 C385,277.6 387.5,278.2 389.5,277.4 C391.2,276.6 392.2,274.6 393,272 L402,272 C402,277 400.5,280.6 397,282.5 C393,284.5 386,284.5 380,285.5 C377,286 375.5,285.5 375,284.5 Z" fill="#e95c47"/>
<path d="M404,272 C404,280 406,286 411,290.5 C415,293 420,293.5 424,291 C428,288 432,283 437,277 L444,272 Z" fill="#e95c47"/>
<path d="M412,272 C413,276 416,279 419,281.5 C421,283 424,282.5 424,280 C424,277 423,274 423,272 Z" fill="#fba05b"/>
<ellipse cx="427" cy="274" rx="4" ry="2.5" fill="#bc2249"/>
<ellipse cx="338.2" cy="282.5" rx="2.0" ry="5.0" fill="#fba05b" transform="rotate(-12 338.2 282.5)"/>
<ellipse cx="345" cy="300" rx="9" ry="2.5" fill="#e95c47"/>
<ellipse cx="59" cy="293.6" rx="4.6" ry="2.3" fill="#fba05b"/>
<ellipse cx="58" cy="293.2" rx="2" ry="1.2" fill="#e95c47"/>
<ellipse cx="78.8" cy="295.2" rx="3.2" ry="1.6" fill="#feda86" transform="rotate(35 78.8 295.2)"/>
<ellipse cx="87.6" cy="294.2" rx="2.6" ry="2" fill="#feda86"/>
<ellipse cx="107.5" cy="291.8" rx="2.2" ry="1.0" fill="#fba05b"/>
<ellipse cx="180" cy="288.6" rx="2.5" ry="1.2" fill="#bc2249"/>
<ellipse cx="192" cy="288" rx="3.5" ry="1.4" fill="#bc2249"/>
<ellipse cx="245.3" cy="285" rx="7" ry="2.6" fill="#bc2249"/>
<ellipse cx="256.4" cy="283.2" rx="2" ry="2" fill="#fba05b"/>
<ellipse cx="299" cy="280" rx="2.5" ry="1.3" fill="#e95c47"/>
<ellipse cx="306.5" cy="281" rx="2.6" ry="1.6" fill="#fba05b"/>
<ellipse cx="316" cy="280.5" rx="2.2" ry="1.4" fill="#e95c47"/>
<ellipse cx="326" cy="279.5" rx="2.2" ry="1.2" fill="#e95c47"/>
<path d="M94.5,318 C97,313 100,310.2 104,309.8 C109,309.3 113,311 117,314.5 L120,318 Z" fill="#54aead"/>
<ellipse cx="180.5" cy="309" rx="10" ry="3.9" fill="#54aead"/>
</g>
<g clip-path="url(#clipB)">
<polygon points="54,367.2 96,368.6 146,370.6 200,372.2 247,373.4 300,374.8 338,376.2 400,377.2 448,377.8 424.5,402.5 335,402.3 300,401 230,399 150,396 79.2,392.6" fill="#e95c47" />
<path d="M226,410 L226,410 C226.33,408.25 227.17,401.5 228,399.5 C228.83,397.5 230.17,399.42 231,398 C231.83,396.58 231.83,392.92 233,391 C234.17,389.08 235.17,387.5 238,386.5 C240.83,385.5 246.33,385.32 250,385 C253.67,384.68 256.67,384.52 260,384.6 C263.33,384.68 266.67,385.27 270,385.5 C273.33,385.73 277.5,385.25 280,386 C282.5,386.75 283.33,388.67 285,390 C286.67,391.33 288.33,393.42 290,394 C291.67,394.58 293.33,394 295,393.5 C296.67,393 298.33,392.08 300,391 C301.67,389.92 303.33,388.25 305,387 C306.67,385.75 308.33,383.97 310,383.5 C311.67,383.03 313,383.7 315,384.2 C317,384.7 319.5,385.57 322,386.5 C324.5,387.43 327,389.22 330,389.8 C333,390.38 337.5,390.13 340,390 C342.5,389.87 343.33,389.67 345,389 C346.67,388.33 348.1,387.27 350,386 C351.9,384.73 354.4,381.57 356.4,381.4 C358.4,381.23 359.73,383.9 362,385 C364.27,386.1 367,387 370,388 C373,389 377.5,390.5 380,391 C382.5,391.5 382.5,391.5 385,391 C387.5,390.5 392,388.92 395,388 C398,387.08 400.5,385.33 403,385.5 C405.5,385.67 407.17,388.92 410,389 C412.83,389.08 416.67,386.75 420,386 C423.33,385.25 426.67,385 430,384.5 C433.33,384 436.67,383.75 440,383 C443.33,382.25 448.33,380.5 450,380 L450,410 Z" fill="#fba05b"/>
<path d="M298,410 L298,410 C298.33,408.67 299.17,404 300,402 C300.83,400 302,399.67 303,398 C304,396.33 304.83,393.42 306,392 C307.17,390.58 308.5,389.67 310,389.5 C311.5,389.33 313,390.25 315,391 C317,391.75 319.5,393.08 322,394 C324.5,394.92 327,396.17 330,396.5 C333,396.83 337.5,396.25 340,396 C342.5,395.75 343.33,396 345,395 C346.67,394 348.1,391.67 350,390 C351.9,388.33 354.4,385.17 356.4,385 C358.4,384.83 359.73,387.67 362,389 C364.27,390.33 366.17,391.67 370,393 C373.83,394.33 380,397 385,397 C390,397 395.83,393.58 400,393 C404.17,392.42 406.67,393.75 410,393.5 C413.33,393.25 416.33,392.08 420,391.5 C423.67,390.92 427,390.92 432,390 C437,389.08 447,386.67 450,386 L450,410 Z" fill="#feda86"/>
<path d="M336,410 L336,410 C336.33,408.83 337,404.67 338,403 C339,401.33 340,401.5 342,400 C344,398.5 347.6,395.9 350,394 C352.4,392.1 354.4,388.77 356.4,388.6 C358.4,388.43 359.73,391.43 362,393 C364.27,394.57 367,396.67 370,398 C373,399.33 377.5,400.42 380,401 C382.5,401.58 382.5,401.83 385,401.5 C387.5,401.17 390.83,399.58 395,399 C399.17,398.42 405,398.33 410,398 C415,397.67 418.33,397.83 425,397 C431.67,396.17 445.83,393.67 450,393 L450,410 Z" fill="#ffffbe"/>
<path d="M343,410 L343,410 C343.33,408.83 343.83,405.33 345,403 C346.17,400.67 348.1,397.9 350,396 C351.9,394.1 354.4,391.6 356.4,391.6 C358.4,391.6 360.07,394.1 362,396 C363.93,397.9 366.67,400.67 368,403 C369.33,405.33 369.67,408.83 370,410 L370,410 Z" fill="#dff299"/>
<path d="M398,410 L398,410 C398.33,408.83 398.83,404.58 400,403 C401.17,401.42 400.83,401 405,400.5 C409.17,400 420.83,399.58 425,400 C429.17,400.42 428.83,401.33 430,403 C431.17,404.67 431.67,408.83 432,410 L432,410 Z" fill="#dff299"/>
<path d="M348,410 L348,410 C348.33,408.83 349.17,404.83 350,403 C350.83,401.17 351.93,399.85 353,399 C354.07,398.15 355.23,397.9 356.4,397.9 C357.57,397.9 359.07,398.15 360,399 C360.93,399.85 361.33,401.17 362,403 C362.67,404.83 363.67,408.83 364,410 L364,410 Z" fill="#9cd7a4"/>
<polygon points="50,366 102,366 100,369.8 98.4,378 99.2,384 96.8,387 92,389.5 84,391.5 79.2,392.6 50,395" fill="#bc2249" />
<path d="M104.8,360 L104.8,369.6 C105.07,371 106,375.6 106.4,378 C106.8,380.4 106.4,382.33 107.2,384 C108,385.67 109.23,387.08 111.2,388 C113.17,388.92 116.37,389.33 119,389.5 C121.63,389.67 125,389.33 127,389 C129,388.67 129.83,388.33 131,387.5 C132.17,386.67 133.17,385.42 134,384 C134.83,382.58 135.17,380.42 136,379 C136.83,377.58 137.67,376.58 139,375.5 C140.33,374.42 142.5,373.17 144,372.5 C145.5,371.83 147,371.25 148,371.5 C149,371.75 149.33,372.92 150,374 C150.67,375.08 150.83,376.58 152,378 C153.17,379.42 155.17,381.83 157,382.5 C158.83,383.17 161.17,382.67 163,382 C164.83,381.33 166.67,379.67 168,378.5 C169.33,377.33 169.83,375.42 171,375 C172.17,374.58 173.83,375.17 175,376 C176.17,376.83 176.67,378.92 178,380 C179.33,381.08 181.33,382.33 183,382.5 C184.67,382.67 186.5,381.83 188,381 C189.5,380.17 190,378.08 192,377.5 C194,376.92 197.33,377.55 200,377.5 C202.67,377.45 205.5,377.12 208,377.2 C210.5,377.28 212.67,377.37 215,378 C217.33,378.63 219.83,380.83 222,381 C224.17,381.17 225.83,379.5 228,379 C230.17,378.5 233,377.92 235,378 C237,378.08 237.5,379 240,379.5 C242.5,380 247,381.08 250,381 C253,380.92 255.5,379.42 258,379 C260.5,378.58 263,379 265,378.5 C267,378 267.5,375.75 270,376 C272.5,376.25 276.67,379.08 280,380 C283.33,380.92 286.67,381.5 290,381.5 C293.33,381.5 297.5,380.92 300,380 C302.5,379.08 303.33,376.58 305,376 C306.67,375.42 308.5,376.17 310,376.5 C311.5,376.83 312.67,378 314,378 C315.33,378 316.67,376.17 318,376.5 C319.33,376.83 320.67,379.92 322,380 C323.33,380.08 324,377.5 326,377 C328,376.5 332.33,376.17 334,377 C335.67,377.83 335,380.5 336,382 C337,383.5 338,385.33 340,386 C342,386.67 345.83,386.33 348,386 C350.17,385.67 351.75,385.33 353,384 C354.25,382.67 354.83,379.17 355.5,378 C356.17,376.83 356.42,376.5 357,377 C357.58,377.5 358.17,379.58 359,381 C359.83,382.42 360.17,384.63 362,385.5 C363.83,386.37 367.83,386.45 370,386.2 C372.17,385.95 373.92,385.37 375,384 C376.08,382.63 375.67,379.23 376.5,378 C377.33,376.77 367.75,376.83 380,376.6 C392.25,376.37 438.33,376.6 450,376.6 L450,360 Z" fill="#bc2249"/>
<ellipse cx="74.4" cy="370.2" rx="3.8" ry="2.6" fill="#fba05b"/>
<ellipse cx="74.4" cy="370" rx="2.2" ry="1.5" fill="#feda86"/>
<ellipse cx="84.8" cy="369.5" rx="2" ry="1.5" fill="#fba05b"/>
<ellipse cx="112.8" cy="372.8" rx="2" ry="3" fill="#e95c47"/>
<ellipse cx="396" cy="380.2" rx="3.6" ry="2.4" fill="#bc2249"/>
<ellipse cx="414" cy="378.6" rx="5.5" ry="2.3" fill="#bc2249"/>
<ellipse cx="429" cy="378.4" rx="3" ry="1.4" fill="#bc2249"/>
<ellipse cx="438.5" cy="380.6" rx="5" ry="3.2" fill="#bc2249"/>
</g>
<rect x="51.5" y="272.5" width="399" height="46" fill="none" stroke="#6e6e6e" stroke-width="1"/>
<line x1="49" y1="277.4" x2="51.5" y2="277.4" stroke="#333" stroke-width="0.7"/>
<text x="47.1" y="279.9" font-size="7.6" text-anchor="end" fill="#222" textLength="8.2" lengthAdjust="spacingAndGlyphs" >40</text>
<line x1="49" y1="294.4" x2="51.5" y2="294.4" stroke="#333" stroke-width="0.7"/>
<text x="47.1" y="296.9" font-size="7.6" text-anchor="end" fill="#222" textLength="8.2" lengthAdjust="spacingAndGlyphs" >30</text>
<line x1="49" y1="311.4" x2="51.5" y2="311.4" stroke="#333" stroke-width="0.7"/>
<text x="47.1" y="313.9" font-size="7.6" text-anchor="end" fill="#222" textLength="8.2" lengthAdjust="spacingAndGlyphs" >20</text>
<line x1="52.4" y1="318.5" x2="52.4" y2="321" stroke="#333" stroke-width="0.7"/>
<text x="52.4" y="328.3" font-size="7.6" text-anchor="middle" fill="#222" textLength="4.15" lengthAdjust="spacingAndGlyphs" >0</text>
<line x1="136" y1="318.5" x2="136" y2="321" stroke="#333" stroke-width="0.7"/>
<text x="136" y="328.3" font-size="7.6" text-anchor="middle" fill="#222" textLength="8.3" lengthAdjust="spacingAndGlyphs" >50</text>
<line x1="219.6" y1="318.5" x2="219.6" y2="321" stroke="#333" stroke-width="0.7"/>
<text x="219.6" y="328.3" font-size="7.6" text-anchor="middle" fill="#222" textLength="12.45" lengthAdjust="spacingAndGlyphs" >100</text>
<line x1="303.2" y1="318.5" x2="303.2" y2="321" stroke="#333" stroke-width="0.7"/>
<text x="303.2" y="328.3" font-size="7.6" text-anchor="middle" fill="#222" textLength="12.45" lengthAdjust="spacingAndGlyphs" >150</text>
<line x1="386.8" y1="318.5" x2="386.8" y2="321" stroke="#333" stroke-width="0.7"/>
<text x="386.8" y="328.3" font-size="7.6" text-anchor="middle" fill="#222" textLength="12.45" lengthAdjust="spacingAndGlyphs" >200</text>
<text x="251" y="337.6" font-size="8" text-anchor="middle" fill="#222" textLength="44" lengthAdjust="spacingAndGlyphs" >Distance [m]</text>
<text x="34.3" y="295.6" font-size="8" text-anchor="middle" fill="#222" textLength="46" lengthAdjust="spacingAndGlyphs" transform="rotate(-90 34.3 295.6)" >Elevation [m]</text>
<circle cx="52.4" cy="292" r="1.7" fill="#000"/>
<circle cx="60.77" cy="291.96" r="1.7" fill="#000"/>
<circle cx="69.14" cy="291.91" r="1.7" fill="#000"/>
<circle cx="77.51" cy="291.87" r="1.7" fill="#000"/>
<circle cx="85.88" cy="291.82" r="1.7" fill="#000"/>
<circle cx="94.25" cy="291.63" r="1.7" fill="#000"/>
<circle cx="102.62" cy="291.3" r="1.7" fill="#000"/>
<circle cx="110.99" cy="290.96" r="1.7" fill="#000"/>
<circle cx="119.36" cy="290.63" r="1.7" fill="#000"/>
<circle cx="127.73" cy="290.29" r="1.7" fill="#000"/>
<circle cx="136.1" cy="289.96" r="1.7" fill="#000"/>
<circle cx="144.47" cy="289.62" r="1.7" fill="#000"/>
<circle cx="152.84" cy="289.06" r="1.7" fill="#000"/>
<circle cx="161.21" cy="288.48" r="1.7" fill="#000"/>
<circle cx="169.58" cy="287.9" r="1.7" fill="#000"/>
<circle cx="177.95" cy="287.33" r="1.7" fill="#000"/>
<circle cx="186.32" cy="286.75" r="1.7" fill="#000"/>
<circle cx="194.69" cy="286.17" r="1.7" fill="#000"/>
<circle cx="203.06" cy="285.6" r="1.7" fill="#000"/>
<circle cx="211.43" cy="285.1" r="1.7" fill="#000"/>
<circle cx="219.8" cy="284.61" r="1.7" fill="#000"/>
<circle cx="228.17" cy="284.11" r="1.7" fill="#000"/>
<circle cx="236.54" cy="283.62" r="1.7" fill="#000"/>
<circle cx="244.91" cy="283.12" r="1.7" fill="#000"/>
<circle cx="253.28" cy="282.39" r="1.7" fill="#000"/>
<circle cx="261.65" cy="281.58" r="1.7" fill="#000"/>
<circle cx="270.02" cy="280.77" r="1.7" fill="#000"/>
<circle cx="278.39" cy="279.99" r="1.7" fill="#000"/>
<circle cx="286.76" cy="279.69" r="1.7" fill="#000"/>
<circle cx="295.13" cy="279.39" r="1.7" fill="#000"/>
<circle cx="303.5" cy="279.09" r="1.7" fill="#000"/>
<circle cx="311.87" cy="278.79" r="1.7" fill="#000"/>
<circle cx="320.24" cy="278.02" r="1.7" fill="#000"/>
<circle cx="328.61" cy="277.25" r="1.7" fill="#000"/>
<circle cx="336.98" cy="276.41" r="1.7" fill="#000"/>
<circle cx="345.35" cy="273.6" r="1.7" fill="#000"/>
<circle cx="353.72" cy="273.6" r="1.7" fill="#000"/>
<circle cx="362.09" cy="273.6" r="1.7" fill="#000"/>
<circle cx="370.46" cy="273.6" r="1.7" fill="#000"/>
<circle cx="378.83" cy="273.6" r="1.7" fill="#000"/>
<circle cx="387.2" cy="273.6" r="1.7" fill="#000"/>
<circle cx="395.57" cy="273.6" r="1.7" fill="#000"/>
<circle cx="403.94" cy="273.6" r="1.7" fill="#000"/>
<circle cx="412.31" cy="273.6" r="1.7" fill="#000"/>
<circle cx="420.68" cy="273.6" r="1.7" fill="#000"/>
<circle cx="429.05" cy="273.6" r="1.7" fill="#000"/>
<circle cx="437.42" cy="273.6" r="1.7" fill="#000"/>
<circle cx="445.79" cy="273.6" r="1.7" fill="#000"/>
<text x="51.6" y="269" font-size="12.4" text-anchor="start" fill="#222" textLength="7.6" lengthAdjust="spacingAndGlyphs" >A</text>
<text x="437.8" y="269.4" font-size="12.4" text-anchor="start" fill="#222" textLength="10.4" lengthAdjust="spacingAndGlyphs" >A'</text>
<rect x="50.5" y="365.5" width="399" height="39.5" fill="none" stroke="#6e6e6e" stroke-width="1"/>
<line x1="48" y1="380" x2="50.5" y2="380" stroke="#333" stroke-width="0.7"/>
<text x="46.7" y="382.5" font-size="7.6" text-anchor="end" fill="#222" textLength="8.2" lengthAdjust="spacingAndGlyphs" >35</text>
<line x1="48" y1="397" x2="50.5" y2="397" stroke="#333" stroke-width="0.7"/>
<text x="46.7" y="399.5" font-size="7.6" text-anchor="end" fill="#222" textLength="8.2" lengthAdjust="spacingAndGlyphs" >30</text>
<line x1="54" y1="405.0" x2="54" y2="407.5" stroke="#333" stroke-width="0.7"/>
<text x="54" y="414.9" font-size="7.6" text-anchor="middle" fill="#222" textLength="4.15" lengthAdjust="spacingAndGlyphs" >0</text>
<line x1="121" y1="405.0" x2="121" y2="407.5" stroke="#333" stroke-width="0.7"/>
<text x="121" y="414.9" font-size="7.6" text-anchor="middle" fill="#222" textLength="8.3" lengthAdjust="spacingAndGlyphs" >20</text>
<line x1="188" y1="405.0" x2="188" y2="407.5" stroke="#333" stroke-width="0.7"/>
<text x="188" y="414.9" font-size="7.6" text-anchor="middle" fill="#222" textLength="8.3" lengthAdjust="spacingAndGlyphs" >40</text>
<line x1="255" y1="405.0" x2="255" y2="407.5" stroke="#333" stroke-width="0.7"/>
<text x="255" y="414.9" font-size="7.6" text-anchor="middle" fill="#222" textLength="8.3" lengthAdjust="spacingAndGlyphs" >60</text>
<line x1="322" y1="405.0" x2="322" y2="407.5" stroke="#333" stroke-width="0.7"/>
<text x="322" y="414.9" font-size="7.6" text-anchor="middle" fill="#222" textLength="8.3" lengthAdjust="spacingAndGlyphs" >80</text>
<line x1="389" y1="405.0" x2="389" y2="407.5" stroke="#333" stroke-width="0.7"/>
<text x="389" y="414.9" font-size="7.6" text-anchor="middle" fill="#222" textLength="12.45" lengthAdjust="spacingAndGlyphs" >100</text>
<text x="250.5" y="424.4" font-size="8" text-anchor="middle" fill="#222" textLength="44" lengthAdjust="spacingAndGlyphs" >Distance [m]</text>
<text x="33.9" y="385" font-size="8" text-anchor="middle" fill="#222" textLength="46" lengthAdjust="spacingAndGlyphs" transform="rotate(-90 33.9 385)" >Elevation [m]</text>
<circle cx="54" cy="367.2" r="1.7" fill="#000"/>
<circle cx="62.38" cy="367.48" r="1.7" fill="#000"/>
<circle cx="70.76" cy="367.76" r="1.7" fill="#000"/>
<circle cx="79.14" cy="368.04" r="1.7" fill="#000"/>
<circle cx="87.52" cy="368.32" r="1.7" fill="#000"/>
<circle cx="95.9" cy="368.6" r="1.7" fill="#000"/>
<circle cx="104.28" cy="368.93" r="1.7" fill="#000"/>
<circle cx="112.66" cy="369.27" r="1.7" fill="#000"/>
<circle cx="121.04" cy="369.6" r="1.7" fill="#000"/>
<circle cx="129.42" cy="369.94" r="1.7" fill="#000"/>
<circle cx="137.8" cy="370.27" r="1.7" fill="#000"/>
<circle cx="146.18" cy="370.61" r="1.7" fill="#000"/>
<circle cx="154.56" cy="370.85" r="1.7" fill="#000"/>
<circle cx="162.94" cy="371.1" r="1.7" fill="#000"/>
<circle cx="171.32" cy="371.35" r="1.7" fill="#000"/>
<circle cx="179.7" cy="371.6" r="1.7" fill="#000"/>
<circle cx="188.08" cy="371.85" r="1.7" fill="#000"/>
<circle cx="196.46" cy="372.1" r="1.7" fill="#000"/>
<circle cx="204.84" cy="372.32" r="1.7" fill="#000"/>
<circle cx="213.22" cy="372.54" r="1.7" fill="#000"/>
<circle cx="221.6" cy="372.75" r="1.7" fill="#000"/>
<circle cx="229.98" cy="372.97" r="1.7" fill="#000"/>
<circle cx="238.36" cy="373.18" r="1.7" fill="#000"/>
<circle cx="246.74" cy="373.39" r="1.7" fill="#000"/>
<circle cx="255.12" cy="373.61" r="1.7" fill="#000"/>
<circle cx="263.5" cy="373.84" r="1.7" fill="#000"/>
<circle cx="271.88" cy="374.06" r="1.7" fill="#000"/>
<circle cx="280.26" cy="374.28" r="1.7" fill="#000"/>
<circle cx="288.64" cy="374.5" r="1.7" fill="#000"/>
<circle cx="297.02" cy="374.72" r="1.7" fill="#000"/>
<circle cx="305.4" cy="375" r="1.7" fill="#000"/>
<circle cx="313.78" cy="375.31" r="1.7" fill="#000"/>
<circle cx="322.16" cy="375.62" r="1.7" fill="#000"/>
<circle cx="330.54" cy="375.93" r="1.7" fill="#000"/>
<circle cx="338.92" cy="376.21" r="1.7" fill="#000"/>
<circle cx="347.3" cy="376.35" r="1.7" fill="#000"/>
<circle cx="355.68" cy="376.49" r="1.7" fill="#000"/>
<circle cx="364.06" cy="376.62" r="1.7" fill="#000"/>
<circle cx="372.44" cy="376.76" r="1.7" fill="#000"/>
<circle cx="380.82" cy="376.89" r="1.7" fill="#000"/>
<circle cx="389.2" cy="377.03" r="1.7" fill="#000"/>
<circle cx="397.58" cy="377.16" r="1.7" fill="#000"/>
<circle cx="405.96" cy="377.27" r="1.7" fill="#000"/>
<circle cx="414.34" cy="377.38" r="1.7" fill="#000"/>
<circle cx="422.72" cy="377.48" r="1.7" fill="#000"/>
<circle cx="431.1" cy="377.59" r="1.7" fill="#000"/>
<circle cx="439.48" cy="377.69" r="1.7" fill="#000"/>
<circle cx="447.86" cy="377.8" r="1.7" fill="#000"/>
<text x="50.9" y="361.1" font-size="12.4" text-anchor="start" fill="#222" textLength="7.1" lengthAdjust="spacingAndGlyphs" >B</text>
<text x="437.9" y="361.4" font-size="12.4" text-anchor="start" fill="#222" textLength="10.1" lengthAdjust="spacingAndGlyphs" >B'</text>
<text x="4.8" y="268.4" font-size="12" text-anchor="start" fill="#222" textLength="15.3" lengthAdjust="spacingAndGlyphs" >(b)</text>
<rect x="465.8" y="399" width="8" height="17.1" fill="#bc2249"/>
<rect x="465.8" y="382.2" width="8" height="17.1" fill="#e95c47"/>
<rect x="465.8" y="365.4" width="8" height="17.1" fill="#fba05b"/>
<rect x="465.8" y="348.6" width="8" height="17.1" fill="#feda86"/>
<rect x="465.8" y="331.8" width="8" height="17.1" fill="#ffffbe"/>
<rect x="465.8" y="315" width="8" height="17.1" fill="#dff299"/>
<rect x="465.8" y="298.2" width="8" height="17.1" fill="#9cd7a4"/>
<rect x="465.8" y="281.4" width="8" height="17.1" fill="#54aead"/>
<rect x="465.8" y="264.6" width="8" height="17.1" fill="#466eb1"/>
<polygon points="465.8,415.8 473.8,415.8 469.8,423.6" fill="#9e0142"/>
<polygon points="465.8,264.6 473.8,264.6 469.8,257" fill="#5e4fa2"/>
<line x1="473.8" y1="415.8" x2="476.3" y2="415.8" stroke="#333" stroke-width="0.7"/>
<text x="478.2" y="418.4" font-size="7.6" text-anchor="start" fill="#222" textLength="4.1" lengthAdjust="spacingAndGlyphs" >5</text>
<line x1="473.8" y1="399" x2="476.3" y2="399" stroke="#333" stroke-width="0.7"/>
<text x="478.2" y="401.6" font-size="7.6" text-anchor="start" fill="#222" textLength="8.2" lengthAdjust="spacingAndGlyphs" >10</text>
<line x1="473.8" y1="382.2" x2="476.3" y2="382.2" stroke="#333" stroke-width="0.7"/>
<text x="478.2" y="384.8" font-size="7.6" text-anchor="start" fill="#222" textLength="8.2" lengthAdjust="spacingAndGlyphs" >15</text>
<line x1="473.8" y1="365.4" x2="476.3" y2="365.4" stroke="#333" stroke-width="0.7"/>
<text x="478.2" y="368" font-size="7.6" text-anchor="start" fill="#222" textLength="8.2" lengthAdjust="spacingAndGlyphs" >20</text>
<line x1="473.8" y1="348.6" x2="476.3" y2="348.6" stroke="#333" stroke-width="0.7"/>
<text x="478.2" y="351.2" font-size="7.6" text-anchor="start" fill="#222" textLength="8.2" lengthAdjust="spacingAndGlyphs" >25</text>
<line x1="473.8" y1="331.8" x2="476.3" y2="331.8" stroke="#333" stroke-width="0.7"/>
<text x="478.2" y="334.4" font-size="7.6" text-anchor="start" fill="#222" textLength="8.2" lengthAdjust="spacingAndGlyphs" >30</text>
<line x1="473.8" y1="315" x2="476.3" y2="315" stroke="#333" stroke-width="0.7"/>
<text x="478.2" y="317.6" font-size="7.6" text-anchor="start" fill="#222" textLength="8.2" lengthAdjust="spacingAndGlyphs" >35</text>
<line x1="473.8" y1="298.2" x2="476.3" y2="298.2" stroke="#333" stroke-width="0.7"/>
<text x="478.2" y="300.8" font-size="7.6" text-anchor="start" fill="#222" textLength="8.2" lengthAdjust="spacingAndGlyphs" >40</text>
<line x1="473.8" y1="281.4" x2="476.3" y2="281.4" stroke="#333" stroke-width="0.7"/>
<text x="478.2" y="284" font-size="7.6" text-anchor="start" fill="#222" textLength="8.2" lengthAdjust="spacingAndGlyphs" >45</text>
<line x1="473.8" y1="264.6" x2="476.3" y2="264.6" stroke="#333" stroke-width="0.7"/>
<text x="478.2" y="267.2" font-size="7.6" text-anchor="start" fill="#222" textLength="8.2" lengthAdjust="spacingAndGlyphs" >50</text>
<text x="494.8" y="337.4" font-size="7.6" text-anchor="middle" fill="#222" textLength="73" lengthAdjust="spacingAndGlyphs" transform="rotate(-90 494.8 337.4)" >Conductivity(mS/m)</text>
</svg>
</body></html>
